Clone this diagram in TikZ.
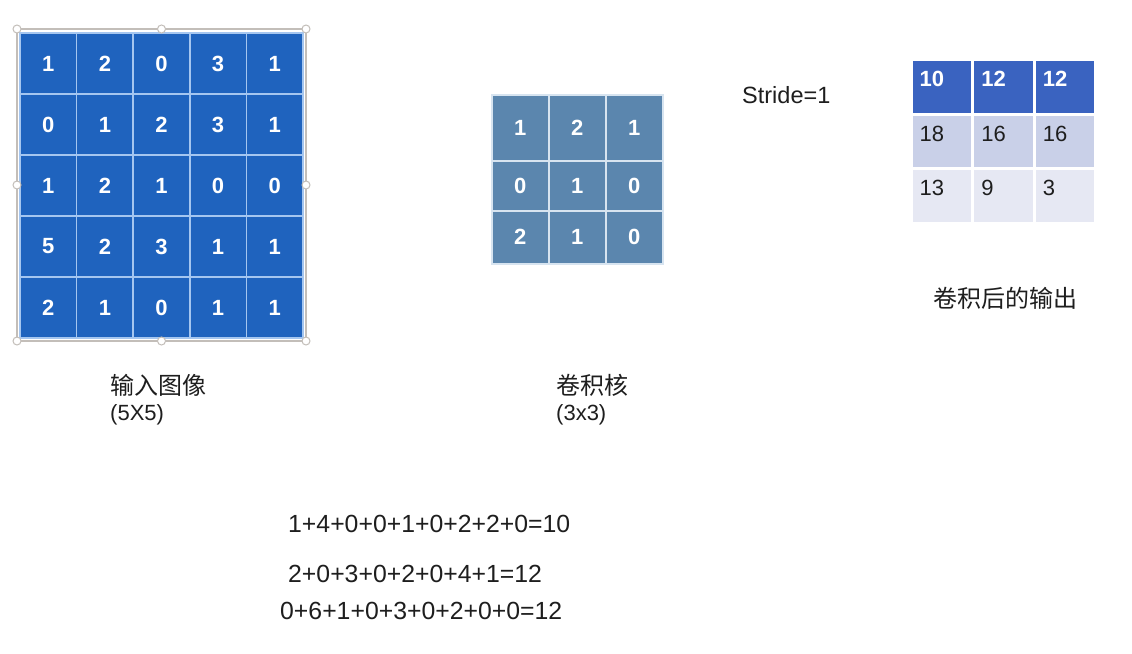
\documentclass[tikz,border=0pt]{standalone}
\usepackage{fontspec}
\setmainfont{Liberation Sans}
\newfontfamily\cjk{Noto Sans CJK SC}
\usetikzlibrary{positioning}
\definecolor{inblue}{RGB}{31,99,190}
\definecolor{ingrid}{RGB}{165,198,240}
\definecolor{kblue}{RGB}{91,134,174}
\definecolor{kgrid}{RGB}{215,228,240}
\definecolor{outhead}{RGB}{58,99,192}
\definecolor{outmid}{RGB}{201,208,232}
\definecolor{outlow}{RGB}{230,232,243}
\definecolor{selgray}{RGB}{195,190,185}
\definecolor{txt}{RGB}{30,30,30}

\begin{document}
\begin{tikzpicture}[x=1pt, y=-1pt,
    incell/.style={draw=ingrid, line width=1.5pt, fill=inblue, minimum width=56.6pt, minimum height=61pt, inner sep=0pt, text=white, font=\fontsize{22}{22}\selectfont\bfseries},
    kcell/.style={draw=kgrid, line width=1.5pt, fill=kblue, minimum width=57pt, inner sep=0pt, anchor=north west, text=white, font=\fontsize{22}{22}\selectfont\bfseries},
    ocell/.style={draw=white, line width=3pt, minimum width=61.6pt, minimum height=54.7pt, inner sep=0pt, anchor=north west},
    otext/.style={anchor=west, inner sep=0pt},
    handle/.style={draw=selgray, fill=white, line width=1pt},
    label/.style={anchor=west, inner sep=0pt, text=txt},
    cjklabel/.style={label, font=\cjk\fontsize{24}{24}\selectfont},
    sumline/.style={label, font=\fontsize{24.8}{24.8}\selectfont}
]
\useasboundingbox[fill=white] (0,0) rectangle (1132,653);

% input image 5x5
\foreach \row [count=\r] in {{1,2,0,3,1},{0,1,2,3,1},{1,2,1,0,0},{5,2,3,1,1},{2,1,0,1,1}} {
  \foreach \v [count=\c] in \row {
    \node[incell] (in-\r-\c) at ({20+56.6*(\c-0.5)}, {33+61*(\r-0.5)}) {\v};
  }
}
\draw[selgray, line width=1.2pt] (17,29) rectangle (306,341);
\foreach \p in {(17,29),(161.5,29),(306,29),(17,185),(306,185),(17,341),(161.5,341),(306,341)}
  \draw[handle] \p circle [radius=4pt];

\node[cjklabel] (in-title) at (110,385) {输入图像};
\node[label, font=\fontsize{22}{22}\selectfont] (in-size) at (110,415) {(5X5)};

% kernel 3x3
\foreach \r/\yt/\h/\vals in {1/94/66/{1,2,1}, 2/160/50/{0,1,0}, 3/210/53/{2,1,0}} {
  \foreach \v [count=\c] in \vals {
    \node[kcell, minimum height=\h] (k-\r-\c) at ({491+57*(\c-1)}, \yt) {\v};
  }
}
\node[cjklabel] (k-title) at (556,385) {卷积核};
\node[label, font=\fontsize{22}{22}\selectfont] (k-size) at (556,415) {(3x3)};

\node[label, font=\fontsize{23.5}{23.5}\selectfont] (stride) at (742,95) {Stride=1};

% output 3x3
\foreach \r/\fc/\tc/\fnt/\vals in {1/outhead/white/\bfseries/{10,12,12}, 2/outmid/txt//{18,16,16}, 3/outlow/txt//{13,9,3}} {
  \foreach \v [count=\c] in \vals {
    \node[ocell, fill=\fc] (out-\r-\c) at ({909.5+61.6*(\c-1)}, {58+54.7*(\r-1)}) {};
    \node[otext, text=\tc, font={\fontsize{22}{22}\selectfont\fnt}] at ([xshift=10pt, yshift=-21pt]out-\r-\c.north west) {\v};
  }
}
\node[cjklabel] (out-title) at (933,298) {卷积后的输出};

% sums
\node[sumline] (sum1) at (288,524) {1+4+0+0+1+0+2+2+0=10};
\node[sumline] (sum2) at (288,574) {2+0+3+0+2+0+4+1=12};
\node[sumline] (sum3) at (280,611) {0+6+1+0+3+0+2+0+0=12};
\end{tikzpicture}
\end{document}
